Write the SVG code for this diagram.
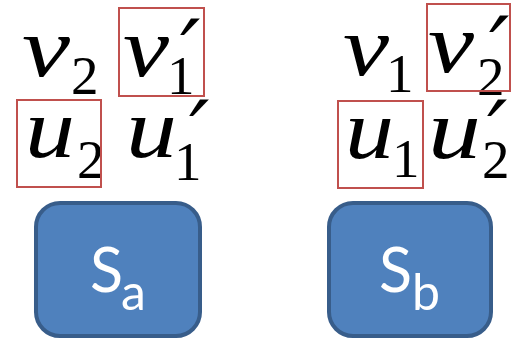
<svg xmlns="http://www.w3.org/2000/svg" width="512" height="339" viewBox="0 0 512 339">
<style>
.m{font-family:"Liberation Serif","Times New Roman",serif;font-style:italic;font-size:84px;fill:#000}
.d{font-family:"Liberation Serif","Times New Roman",serif;font-size:55px;fill:#000}
.p{font-family:"DejaVu Serif",serif;font-style:italic;font-size:90px;fill:#000}
.hl{fill:none;stroke:#C0504D;stroke-width:2}
.node{fill:#4F81BD;stroke:#385D8A;stroke-width:4}
.s{font-family:Lato,"Liberation Sans",sans-serif;fill:#fff}
</style>
<rect width="512" height="339" fill="#fff"/>
<g id="left-vars">
<text class="m" x="22" y="76" textLength="48" lengthAdjust="spacingAndGlyphs">v</text>
<text class="d" x="71" y="94">2</text>
<text class="m" x="123" y="76" textLength="46" lengthAdjust="spacingAndGlyphs">v</text>
<text class="p" x="180" y="84">′</text>
<text class="d" x="167" y="94">1</text>
<text class="m" x="25" y="157" textLength="50" lengthAdjust="spacingAndGlyphs">u</text>
<text class="d" x="77" y="178">2</text>
<text class="m" x="126" y="157" textLength="51" lengthAdjust="spacingAndGlyphs">u</text>
<text class="p" x="189" y="165">′</text>
<text class="d" x="174" y="180">1</text>
</g>
<g id="right-vars">
<text class="m" x="343" y="75" textLength="46" lengthAdjust="spacingAndGlyphs">v</text>
<text class="d" x="386" y="92">1</text>
<text class="m" x="428" y="72" textLength="46" lengthAdjust="spacingAndGlyphs">v</text>
<text class="p" x="489" y="81">′</text>
<text class="d" x="477" y="95">2</text>
<text class="m" x="345" y="158" textLength="49" lengthAdjust="spacingAndGlyphs">u</text>
<text class="d" x="392" y="177">1</text>
<text class="m" x="428" y="158" textLength="53" lengthAdjust="spacingAndGlyphs">u</text>
<text class="p" x="487" y="165">′</text>
<text class="d" x="482" y="178">2</text>
</g>
<g id="highlights">
<rect class="hl" x="119" y="8" width="85" height="88"/>
<rect class="hl" x="17" y="100" width="84" height="87"/>
<rect class="hl" x="427" y="4" width="83" height="87"/>
<rect class="hl" x="338" y="101" width="85" height="87"/>
</g>
<g id="node-Sa">
<rect class="node" x="36" y="203" width="164" height="133" rx="24"/>
<text class="s" x="90" y="292" font-size="61">S</text>
<text class="s" x="121" y="310" font-size="50">a</text>
</g>
<g id="node-Sb">
<rect class="node" x="329" y="203" width="162" height="133" rx="24"/>
<text class="s" x="379" y="292" font-size="61">S</text>
<text class="s" x="412" y="310" font-size="50">b</text>
</g>
<g id="connectors"/>
</svg>
